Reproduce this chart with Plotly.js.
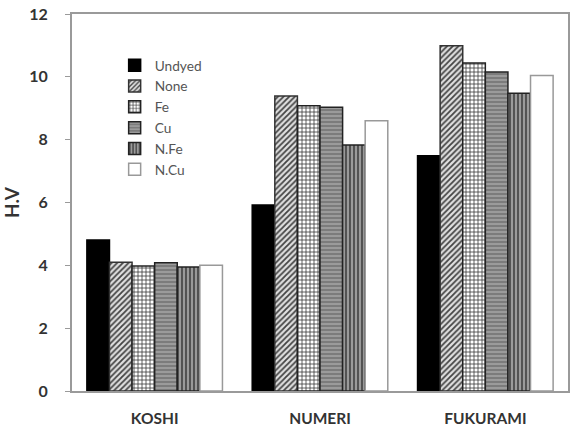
<!DOCTYPE html>
<html>
<head>
<meta charset="utf-8">
<script src="https://cdn.plot.ly/plotly-3.0.1.min.js"></script>
<style>html,body{margin:0;padding:0;background:#fff}#chart{width:574px;height:429px}</style>
</head>
<body>
<div id="chart"></div>
<script>
const categories = ["KOSHI", "NUMERI", "FUKURAMI"];
const seriesNames = ["Undyed", "None", "Fe", "Cu", "N.Fe", "N.Cu"];
const undyed = [4.81, 5.92, 7.49];
const none = [4.10, 9.39, 10.99];
const fe = [3.98, 9.08, 10.44];
const cu = [4.08, 9.03, 10.15];
const nfe = [3.95, 7.83, 9.48];
const ncu = [4.00, 8.60, 10.04];
const yTicks = [0, 2, 4, 6, 8, 10, 12];

const values = [undyed, none, fe, cu, nfe, ncu];
const styles = [
  {color: "#000000", line: "#000000", pattern: {shape: ""}},
  {color: "#e6e6e6", line: "#333333", pattern: {shape: "/", fgcolor: "#444444", bgcolor: "#e0e0e0", size: 4, solidity: 0.45, fillmode: "replace"}},
  {color: "#ffffff", line: "#222222", pattern: {shape: "+", fgcolor: "#333333", bgcolor: "#ffffff", size: 4, solidity: 0.35, fillmode: "replace"}},
  {color: "#8a8a8a", line: "#222222", pattern: {shape: "-", fgcolor: "#b0b0b0", bgcolor: "#7c7c7c", size: 4, solidity: 0.3, fillmode: "replace"}},
  {color: "#8a8a8a", line: "#222222", pattern: {shape: "|", fgcolor: "#222222", bgcolor: "#9a9a9a", size: 4, solidity: 0.3, fillmode: "replace"}},
  {color: "#ffffff", line: "#999999", pattern: {shape: ""}}
];

const traces = seriesNames.map((name, i) => ({
  type: "bar",
  name: name,
  x: categories,
  y: values[i],
  marker: {
    color: styles[i].color,
    line: {color: styles[i].line, width: 1.5},
    pattern: styles[i].pattern
  }
}));

const layout = {
  width: 574,
  height: 429,
  margin: {l: 72, r: 6, t: 14, b: 38},
  paper_bgcolor: "#ffffff",
  plot_bgcolor: "#ffffff",
  font: {family: "Lato, 'Open Sans', sans-serif", color: "#333333"},
  barmode: "group",
  bargap: 0.18,
  bargroupgap: 0,
  showlegend: true,
  legend: {
    x: 0.086, y: 0.905, xanchor: "left", yanchor: "top",
    bgcolor: "rgba(0,0,0,0)",
    font: {size: 13.7, color: "#555555", family: "Lato, 'Open Sans', sans-serif"},
    tracegroupgap: 0
  },
  xaxis: {
    showline: true, mirror: true, linecolor: "#9a9a9a", linewidth: 2,
    ticks: "", showgrid: false,
    tickfont: {size: 15.5, color: "#333333", family: "Lato, sans-serif", weight: "bold"},
    ticklabelstandoff: 12
  },
  yaxis: {
    range: [0, 12],
    tickvals: yTicks,
    ticktext: yTicks.map(String),
    showline: true, mirror: true, linecolor: "#9a9a9a", linewidth: 2,
    ticks: "outside", ticklen: 5, tickcolor: "#9a9a9a",
    showgrid: false, zeroline: false,
    tickfont: {size: 16, color: "#333333", family: "Lato, sans-serif", weight: "bold"},
    ticklabelstandoff: 14,
    title: {text: "H.V", font: {size: 19, color: "#333333", family: "Lato, sans-serif", weight: "bold"}, standoff: 6}
  }
};

Plotly.newPlot("chart", traces, layout, {displayModeBar: false, staticPlot: true});
</script>
</body>
</html>
